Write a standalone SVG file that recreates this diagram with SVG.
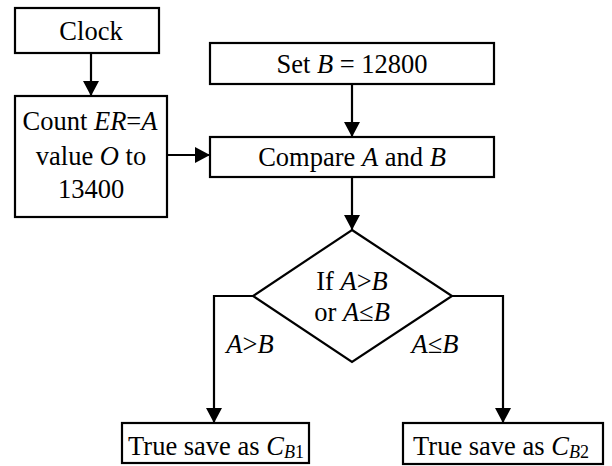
<svg xmlns="http://www.w3.org/2000/svg" width="612" height="466" viewBox="0 0 612 466">
  <defs>
    <style>
      .box { fill: #ffffff; stroke: #000000; stroke-width: 2.2; }
      .wire { fill: none; stroke: #000000; stroke-width: 2.2; }
      .t { font-size: 26.5px; fill: #000000; text-anchor: middle; }
      .it { font-style: italic; }
      .sub { font-size: 18px; }
    </style>
    <marker id="arrow" markerUnits="userSpaceOnUse" markerWidth="16" markerHeight="18" viewBox="0 0 16 18" refX="15" refY="9" orient="auto">
      <path d="M0,1 L15,9 L0,17 Z" fill="#000000"/>
    </marker>
  </defs>

  <!-- connectors -->
  <g id="connectors">
    <line class="wire" x1="91" y1="53" x2="91" y2="96" marker-end="url(#arrow)"/>
    <line class="wire" x1="167" y1="155" x2="210" y2="155" marker-end="url(#arrow)"/>
    <line class="wire" x1="352" y1="84" x2="352" y2="137" marker-end="url(#arrow)"/>
    <line class="wire" x1="352" y1="177" x2="352" y2="230" marker-end="url(#arrow)"/>
    <polyline class="wire" points="253,296 214,296 214,423" marker-end="url(#arrow)"/>
    <polyline class="wire" points="452,296 503,296 503,423" marker-end="url(#arrow)"/>
    <text class="t" font-family="Liberation Serif, serif" x="250" y="353"><tspan class="it">A</tspan>&gt;<tspan class="it">B</tspan></text>
    <text class="t" font-family="Liberation Serif, serif" x="435" y="353"><tspan class="it">A</tspan>≤<tspan class="it">B</tspan></text>
  </g>

  <!-- clock source -->
  <g id="clock">
    <rect class="box" x="15" y="8" width="144" height="45"/>
    <text class="t" font-family="Liberation Serif, serif" x="91" y="40">Clock</text>
  </g>

  <!-- counter -->
  <g id="counter">
    <rect class="box" x="15" y="96" width="152" height="121"/>
    <text class="t" font-family="Liberation Serif, serif" x="90" y="130">Count <tspan class="it">ER</tspan>=<tspan class="it">A</tspan></text>
    <text class="t" font-family="Liberation Serif, serif" x="91" y="165">value <tspan class="it">O</tspan> to</text>
    <text class="t" font-family="Liberation Serif, serif" x="91" y="198">13400</text>
  </g>

  <!-- reference value -->
  <g id="set-b">
    <rect class="box" x="210" y="43" width="284" height="41"/>
    <text class="t" font-family="Liberation Serif, serif" x="352" y="73">Set <tspan class="it">B</tspan> = 12800</text>
  </g>

  <!-- comparator -->
  <g id="compare">
    <rect class="box" x="210" y="137" width="284" height="40"/>
    <text class="t" font-family="Liberation Serif, serif" x="352" y="166">Compare <tspan class="it">A</tspan> and <tspan class="it">B</tspan></text>
  </g>

  <!-- decision -->
  <g id="decision">
    <polygon class="box" points="352,230 452,296 352,362 253,296"/>
    <text class="t" font-family="Liberation Serif, serif" x="352" y="290">If <tspan class="it">A</tspan>&gt;<tspan class="it">B</tspan></text>
    <text class="t" font-family="Liberation Serif, serif" x="352" y="321">or <tspan class="it">A</tspan>≤<tspan class="it">B</tspan></text>
  </g>

  <!-- outcomes -->
  <g id="save-cb1">
    <rect class="box" x="122" y="423" width="187" height="40"/>
    <text class="t" font-family="Liberation Serif, serif" x="216" y="455">True save as <tspan class="it">C</tspan><tspan class="sub it" dy="3">B</tspan><tspan class="sub">1</tspan></text>
  </g>

  <g id="save-cb2">
    <rect class="box" x="403" y="423" width="200" height="41"/>
    <text class="t" font-family="Liberation Serif, serif" x="501" y="455">True save as <tspan class="it">C</tspan><tspan class="sub it" dy="3">B</tspan><tspan class="sub">2</tspan></text>
  </g>
</svg>
